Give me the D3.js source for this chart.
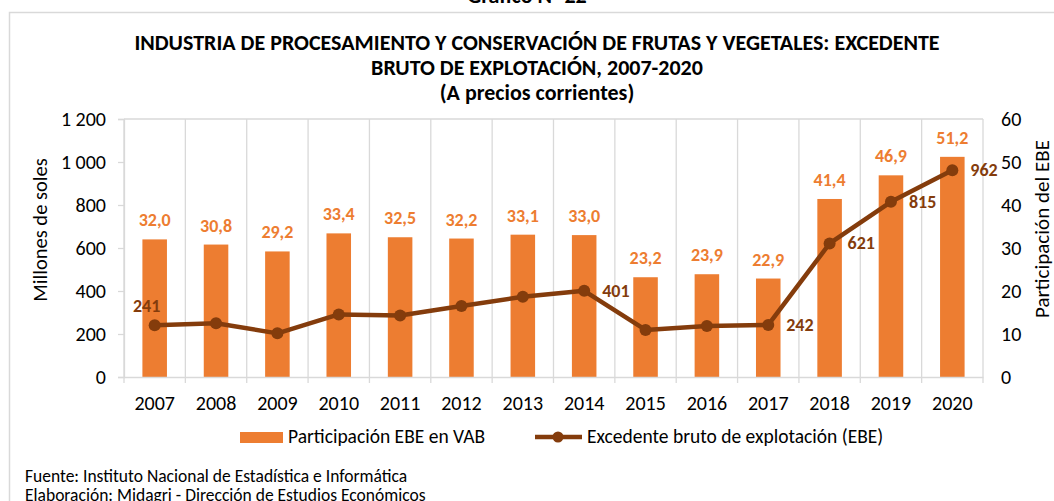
<!DOCTYPE html>
<html>
<head>
<meta charset="utf-8">
<script src="https://cdn.jsdelivr.net/npm/d3@7"></script>
<style>
  body { margin: 0; background: #fff; }
  svg { display: block; font-family: Carlito, Calibri, Lato, sans-serif; }
</style>
</head>
<body>
<svg id="chart" width="1054" height="501"></svg>
<script>
const years = ['2007', '2008', '2009', '2010', '2011', '2012', '2013', '2014', '2015', '2016', '2017', '2018', '2019', '2020']
const participacion = [32.0, 30.8, 29.2, 33.4, 32.5, 32.2, 33.1, 33.0, 23.2, 23.9, 22.9, 41.4, 46.9, 51.2]
const ebe = [241, 250, 203, 291, 286, 330, 373, 401, 219, 237, 242, 621, 815, 962]
const ebeLabelled = ['2007', '2014', '2017', '2018', '2019', '2020']
const leftTicks = [0, 200, 400, 600, 800, 1000, 1200]
const rightTicks = [0, 10, 20, 30, 40, 50, 60]
const titleLines = [
  'INDUSTRIA DE PROCESAMIENTO Y CONSERVACIÓN DE FRUTAS Y VEGETALES: EXCEDENTE',
  'BRUTO DE EXPLOTACIÓN, 2007-2020',
  '(A precios corrientes)'
]

const ORANGE = '#ED7D31'
const BROWN = '#843C0C'
const GRID = '#d9d9d9'
const FONT = 'Carlito, Calibri, Lato, sans-serif'

const svg = d3.select('#chart')
const margin = {top: 119, right: 71, bottom: 124, left: 124}
const W = 1054, H = 501
const x = d3.scaleBand().domain(years).range([margin.left, W - margin.right]).paddingInner(0.6).paddingOuter(0.3)
const xb = d3.scaleBand().domain(years).range([margin.left, W - margin.right])
const yL = d3.scaleLinear().domain([0, 1200]).range([H - margin.bottom, margin.top])
const yR = d3.scaleLinear().domain([0, 60]).range([H - margin.bottom, margin.top])

// outer frame
svg.append('path')
  .attr('d', `M9.5,${H} V12.5 H${W}`)
  .attr('fill', 'none').attr('stroke', GRID).attr('stroke-width', 1.5)

// cut-off figure caption
svg.append('text').attr('x', 527).attr('y', 3).attr('text-anchor', 'middle')
  .attr('font-size', 22).attr('font-weight', 'bold').text('Gráfico N° 22')

svg.selectAll('.title').data(titleLines).enter().append('text')
  .attr('class', 'title')
  .attr('x', 537).attr('y', (d, i) => 50 + i * 25)
  .attr('text-anchor', 'middle').attr('font-size', 22).attr('font-weight', 'bold')
  .attr('fill', '#000').text(d => d)

// vertical gridlines at category boundaries
const bounds = years.map(d => xb(d)).concat([xb.range()[1]])
svg.selectAll('.vgrid').data(bounds).enter().append('line')
  .attr('x1', d => d).attr('x2', d => d)
  .attr('y1', yL(1200)).attr('y2', yL(0) + 6)
  .attr('stroke', GRID).attr('stroke-width', 1.3)
svg.append('line').attr('x1', margin.left).attr('x2', W - margin.right)
  .attr('y1', yL(1200)).attr('y2', yL(1200)).attr('stroke', GRID).attr('stroke-width', 1.3)

// bars
svg.selectAll('.bar').data(years).enter().append('rect')
  .attr('x', d => x(d)).attr('width', x.bandwidth())
  .attr('y', (d, i) => yR(participacion[i]))
  .attr('height', (d, i) => yR(0) - yR(participacion[i]))
  .attr('fill', ORANGE)

svg.selectAll('.barlab').data(years).enter().append('text')
  .attr('x', d => x(d) + x.bandwidth() / 2)
  .attr('y', (d, i) => yR(participacion[i]) - 13)
  .attr('text-anchor', 'middle').attr('font-size', 18).attr('font-weight', 'bold')
  .attr('fill', ORANGE)
  .text((d, i) => participacion[i].toFixed(1).replace('.', ','))

// axes
const axL = svg.append('g').attr('transform', `translate(${margin.left},0)`)
  .call(d3.axisLeft(yL).tickValues(leftTicks).tickSize(6).tickPadding(12)
    .tickFormat(d => d3.format(',')(d).replace(',', ' ')))
const axR = svg.append('g').attr('transform', `translate(${W - margin.right},0)`)
  .call(d3.axisRight(yR).tickValues(rightTicks).tickSize(0).tickPadding(18))
const axB = svg.append('g').attr('transform', `translate(0,${yL(0)})`)
  .call(d3.axisBottom(xb).tickSize(0).tickPadding(19))
;[axL, axR, axB].forEach(g => {
  g.selectAll('path,line').attr('stroke', GRID).attr('stroke-width', 1.3)
  g.selectAll('text').attr('font-size', 20).attr('fill', '#000').style('font-family', FONT)
})
axR.select('path').remove()

svg.append('text').attr('transform', 'translate(47,230) rotate(-90)')
  .attr('text-anchor', 'middle').attr('font-size', 20.5).text('Millones de soles')
svg.append('text').attr('transform', 'translate(1049,229) rotate(-90)')
  .attr('text-anchor', 'middle').attr('font-size', 21).text('Participación del EBE')

// line series
const cx = d => xb(d) + xb.bandwidth() / 2
const line = d3.line().x(d => cx(d)).y((d, i) => yL(ebe[i]))
svg.append('path').datum(years).attr('d', line)
  .attr('fill', 'none').attr('stroke', BROWN).attr('stroke-width', 4.5).attr('stroke-linejoin', 'round')
svg.selectAll('.dot').data(years).enter().append('circle')
  .attr('cx', cx).attr('cy', (d, i) => yL(ebe[i])).attr('r', 6).attr('fill', BROWN)

svg.selectAll('.linelab').data(years.filter(d => ebeLabelled.includes(d))).enter().append('text')
  .attr('x', d => d === '2007' ? cx(d) - 8 : cx(d) + 18)
  .attr('y', d => yL(ebe[years.indexOf(d)]) + (d === '2007' ? -13 : 6))
  .attr('text-anchor', d => d === '2007' ? 'middle' : 'start')
  .attr('font-size', 18).attr('font-weight', 'bold').attr('fill', BROWN)
  .text(d => ebe[years.indexOf(d)])

// legend
const lg = svg.append('g')
lg.append('rect').attr('x', 240).attr('y', 432).attr('width', 43).attr('height', 11).attr('fill', ORANGE)
lg.append('text').attr('x', 288).attr('y', 443).attr('font-size', 19.5).text('Participación EBE en VAB')
lg.append('line').attr('x1', 535).attr('x2', 582).attr('y1', 437).attr('y2', 437)
  .attr('stroke', BROWN).attr('stroke-width', 4.5)
lg.append('circle').attr('cx', 558).attr('cy', 437).attr('r', 5.5).attr('fill', BROWN)
lg.append('text').attr('x', 587).attr('y', 443).attr('font-size', 19.5).text('Excedente bruto de explotación (EBE)')

// sources
svg.append('text').attr('x', 25).attr('y', 482).attr('font-size', 17.5).text('Fuente: Instituto Nacional de Estadística e Informática')
svg.append('text').attr('x', 25).attr('y', 501).attr('font-size', 17.5).text('Elaboración: Midagri - Dirección de Estudios Económicos')
</script>
</body>
</html>
